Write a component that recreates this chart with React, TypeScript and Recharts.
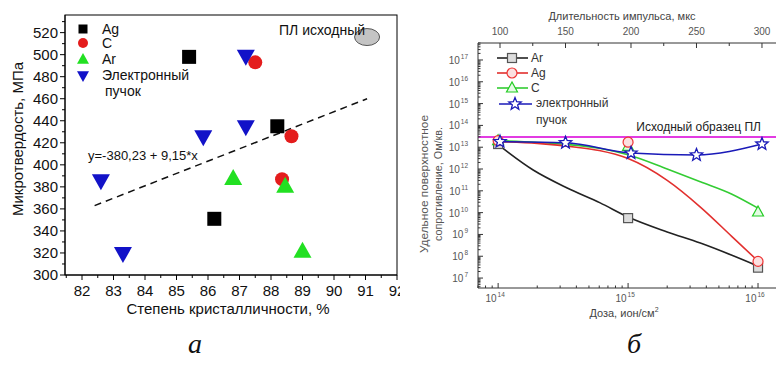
import { ScatterChart, ComposedChart, Scatter, Line, XAxis, YAxis, ReferenceLine } from 'recharts'

const font = 'Liberation Sans, Arial, Helvetica, sans-serif'

// panel a: microhardness vs crystallinity
const agPts = [{ x: 85.4, y: 498 }, { x: 88.2, y: 435 }, { x: 86.2, y: 351 }]
const cPts = [{ x: 87.5, y: 493 }, { x: 88.65, y: 426 }, { x: 88.35, y: 387 }]
const arPts = [{ x: 86.8, y: 388 }, { x: 88.45, y: 381 }, { x: 89.0, y: 322 }]
const ebPts = [{ x: 87.2, y: 498 }, { x: 85.85, y: 425 }, { x: 87.2, y: 434 }, { x: 82.6, y: 385 }, { x: 83.3, y: 319 }]
const plPt = [{ x: 91.05, y: 516 }]
const fitEnds = [{ x: 82.4, y: 363 }, { x: 91.05, y: 460 }]
const crystTicks = [81.5, 82, 82.5, 83, 83.5, 84, 84.5, 85, 85.5, 86, 86.5, 87, 87.5, 88, 88.5, 89, 89.5, 90, 90.5, 91, 91.5, 92]
const hardTicks = [300, 310, 320, 330, 340, 350, 360, 370, 380, 390, 400, 410, 420, 430, 440, 450, 460, 470, 480, 490, 500, 510, 520, 530]

// panel b: surface resistance vs dose / pulse length
const arCurve = [
  { d: 1e14, r: 1.3e13 }, { d: 1.86e14, r: 9e11 }, { d: 3.4e14, r: 1.35e11 }, { d: 6.1e14, r: 2.8e10 },
  { d: 1e15, r: 6.3e9 }, { d: 2e15, r: 1.3e9 }, { d: 3.6e15, r: 4e8 }, { d: 6.3e15, r: 1.1e8 }, { d: 1e16, r: 3.5e7 },
]
const agCurve = [
  { d: 1e14, r: 1.8e13 }, { d: 2e14, r: 1.5e13 }, { d: 4e14, r: 1e13 }, { d: 6e14, r: 7e12 }, { d: 1e15, r: 3e12 },
  { d: 2e15, r: 3e11 }, { d: 3.6e15, r: 1.8e10 }, { d: 6.3e15, r: 8e8 }, { d: 1e16, r: 6e7 },
]
const cCurve = [
  { d: 1e14, r: 2e13 }, { d: 3e14, r: 1.4e13 }, { d: 6e14, r: 9e12 }, { d: 1e15, r: 4.5e12 }, { d: 2e15, r: 1e12 },
  { d: 3.6e15, r: 2.6e11 }, { d: 6.3e15, r: 7e10 }, { d: 1e16, r: 1.6e10 },
]
const arMarks = [{ d: 1e14, r: 1.4e13 }, { d: 1e15, r: 5.6e9 }, { d: 1e16, r: 3e7 }]
const agMarks = [{ d: 1e14, r: 2e13 }, { d: 1e15, r: 1.7e13 }, { d: 1e16, r: 5.8e7 }]
const cMarks = [{ d: 1e14, r: 2e13 }, { d: 1e15, r: 1.1e13 }, { d: 1e16, r: 1.07e10 }]
const ebPulse = [{ p: 100, r: 1.8e13 }, { p: 150, r: 1.6e13 }, { p: 200, r: 5.4e12 }, { p: 250, r: 4.4e12 }, { p: 300, r: 1.4e13 }]
const plLevel = 2.9e13
const decades = [6, 7, 8, 9, 10, 11, 12, 13, 14, 15, 16, 17]
const resTicks = decades.flatMap((n) => [1, 2, 3, 4, 5, 6, 7, 8, 9].map((k) => k * 10 ** n)).filter((v) => v >= 3.5e6 && v <= 6e17)
const doseTicks = [13, 14, 15, 16].flatMap((n) => [1, 2, 3, 4, 5, 6, 7, 8, 9].map((k) => k * 10 ** n)).filter((v) => v >= 7e13 && v <= 1.37e16)
const pulseTicks = [100, 125, 150, 175, 200, 225, 250, 275, 300]

const isDecade = (v: number) => { const e = Math.log10(v); return Math.abs(e - Math.round(e)) < 1e-9 }

const sqS = (p: any, s = 7) => <rect x={p.cx - s} y={p.cy - s} width={2 * s} height={2 * s} fill="#000" />
const dotS = (p: any, s = 7) => <circle cx={p.cx} cy={p.cy} r={s} fill="#e41c1c" />
const triUpS = (p: any, s = 9) => <polygon points={`${p.cx},${p.cy - s} ${p.cx - s},${p.cy + s * 0.78} ${p.cx + s},${p.cy + s * 0.78}`} fill="#22e022" />
const triDnS = (p: any, s = 9) => <polygon points={`${p.cx - s},${p.cy - s * 0.78} ${p.cx + s},${p.cy - s * 0.78} ${p.cx},${p.cy + s}`} fill="#1212c8" />
const sq = (p: any) => sqS(p)
const dot = (p: any) => dotS(p)
const triUp = (p: any) => triUpS(p)
const triDn = (p: any) => triDnS(p)
const blob = (p: any) => <ellipse cx={p.cx} cy={p.cy} rx={12.5} ry={8.5} fill="#c4c4c4" stroke="#555" />

const oSq = (p: any) => <rect x={p.cx - 4.5} y={p.cy - 4.5} width={9} height={9} fill="#ddd" stroke="#555" strokeWidth={1.2} />
const oDot = (p: any) => <circle cx={p.cx} cy={p.cy} r={5} fill="#fbe0e0" stroke="#e33" strokeWidth={1.2} />
const oTri = (p: any) => <polygon points={`${p.cx},${p.cy - 6} ${p.cx - 5.5},${p.cy + 4} ${p.cx + 5.5},${p.cy + 4}`} fill="#e4fbe4" stroke="#2c2" strokeWidth={1.2} />
const star = (p: any) => {
  const pts = Array.from({ length: 10 }, (_, i) => {
    const a = (-90 + i * 36) * Math.PI / 180
    const rr = i % 2 ? 2.8 : 6.5
    return `${p.cx + rr * Math.cos(a)},${p.cy + rr * Math.sin(a)}`
  }).join(' ')
  return <polygon points={pts} fill="#fff" stroke="#1a1ab8" strokeWidth={1.3} />
}

const CrystTick = (p: any) => {
  const v = p.payload.value
  const major = Number.isInteger(v)
  return (
    <g>
      <line x1={p.x} x2={p.x} y1={p.y} y2={p.y + (major ? 5 : 3)} stroke="#000" />
      {major && <text x={p.x} y={p.y + 21} textAnchor="middle" fontSize={15} fill="#111" fontFamily={font}>{v}</text>}
    </g>
  )
}
const HardTick = (p: any) => {
  const v = p.payload.value
  const major = v % 20 === 0
  return (
    <g>
      <line x1={p.x} x2={p.x - (major ? 5 : 3)} y1={p.y} y2={p.y} stroke="#000" />
      {major && <text x={p.x - 7} y={p.y + 5} textAnchor="end" fontSize={15} fill="#111" fontFamily={font}>{v}</text>}
    </g>
  )
}
const ResTick = (p: any) => {
  const v = p.payload.value
  const major = isDecade(v)
  return (
    <g>
      <line x1={p.x} x2={p.x + (major ? 5 : 2.5)} y1={p.y} y2={p.y} stroke="#333" />
      {major && (
        <text x={p.x - 10} y={p.y + 4} textAnchor="end" fontSize={10} fill="#555" fontFamily={font}>
          10<tspan dx={1} dy={-5} fontSize={6.5}>{Math.round(Math.log10(v))}</tspan>
        </text>
      )}
    </g>
  )
}
const DoseTick = (p: any) => {
  const v = p.payload.value
  const major = isDecade(v)
  return (
    <g>
      <line x1={p.x} x2={p.x} y1={p.y} y2={p.y - (major ? 5 : 2.5)} stroke="#333" />
      {major && (
        <text x={p.x - 3} y={p.y + 14} textAnchor="middle" fontSize={10} fill="#555" fontFamily={font}>
          10<tspan dx={1} dy={-5} fontSize={6.5}>{Math.round(Math.log10(v))}</tspan>
        </text>
      )}
    </g>
  )
}
const PulseTick = (p: any) => {
  const v = p.payload.value
  const major = v % 50 === 0
  return (
    <g>
      <line x1={p.x} x2={p.x} y1={p.y} y2={p.y + (major ? 5 : 3)} stroke="#333" />
      {major && <text x={p.x} y={p.y - 8} textAnchor="middle" fontSize={10} fill="#555" fontFamily={font}>{v}</text>}
    </g>
  )
}

function PanelA() {
  return (
    <ScatterChart width={400} height={320} margin={{ top: 15, right: 3, bottom: 15, left: 15 }}>
      <XAxis type="number" dataKey="x" domain={[81.46, 92]} ticks={crystTicks} interval={0} allowDataOverflow height={30}
        tickSize={0} tickMargin={0} tickLine={false} tick={(p: any) => <CrystTick {...p} />} axisLine={{ stroke: '#000' }} />
      <YAxis type="number" dataKey="y" domain={[300, 536]} ticks={hardTicks} interval={0} allowDataOverflow width={50}
        tickSize={0} tickMargin={0} tickLine={false} tick={(p: any) => <HardTick {...p} />} axisLine={{ stroke: '#000' }} />
      <ReferenceLine segment={fitEnds} stroke="#111" strokeWidth={1.5} strokeDasharray="7 5" />
      <Scatter data={agPts} shape={sq} isAnimationActive={false} />
      <Scatter data={cPts} shape={dot} isAnimationActive={false} />
      <Scatter data={arPts} shape={triUp} isAnimationActive={false} />
      <Scatter data={ebPts} shape={triDn} isAnimationActive={false} />
      <Scatter data={plPt} shape={blob} isAnimationActive={false} />
    </ScatterChart>
  )
}

function PanelB() {
  return (
    <ComposedChart width={373} height={320} margin={{ top: 0, right: 0, bottom: 0, left: 0 }}>
      <XAxis xAxisId="dose" type="number" dataKey="d" scale="log" domain={[7.0e13, 1.375e16]} ticks={doseTicks} interval={0}
        allowDataOverflow height={32} tickSize={0} tickMargin={0} tickLine={false} tick={(p: any) => <DoseTick {...p} />}
        axisLine={{ stroke: '#333' }} />
      <XAxis xAxisId="pulse" orientation="top" type="number" dataKey="p" domain={[83.2, 310.7]} ticks={pulseTicks} interval={0}
        allowDataOverflow height={43} tickSize={0} tickMargin={0} tickLine={false} tick={(p: any) => <PulseTick {...p} />}
        axisLine={{ stroke: '#333' }} />
      <YAxis type="number" dataKey="r" scale="log" domain={[3.5e6, 6e17]} ticks={resTicks} interval={0} allowDataOverflow width={75}
        tickSize={0} tickMargin={0} tickLine={false} tick={(p: any) => <ResTick {...p} />} axisLine={{ stroke: '#333' }} />
      <ReferenceLine xAxisId="dose" y={plLevel} stroke="#e23be2" strokeWidth={2} />
      <Line xAxisId="dose" data={cCurve} dataKey="r" type="monotone" stroke="#33cc33" strokeWidth={1.6} dot={false} isAnimationActive={false} />
      <Line xAxisId="dose" data={agCurve} dataKey="r" type="monotone" stroke="#e2302e" strokeWidth={1.6} dot={false} isAnimationActive={false} />
      <Line xAxisId="dose" data={arCurve} dataKey="r" type="monotone" stroke="#222" strokeWidth={1.6} dot={false} isAnimationActive={false} />
      <Line xAxisId="pulse" data={ebPulse} dataKey="r" type="monotone" stroke="#1a1ab8" strokeWidth={1.6} dot={false} isAnimationActive={false} />
      <Scatter xAxisId="dose" data={arMarks} dataKey="r" shape={oSq} isAnimationActive={false} />
      <Scatter xAxisId="dose" data={cMarks} dataKey="r" shape={oTri} isAnimationActive={false} />
      <Scatter xAxisId="dose" data={agMarks} dataKey="r" shape={oDot} isAnimationActive={false} />
      <Scatter xAxisId="pulse" data={ebPulse} dataKey="r" shape={star} isAnimationActive={false} />
    </ComposedChart>
  )
}

function Overlay() {
  const lg = { fontFamily: font, fill: '#111' }
  const rl = { fontFamily: font, fill: '#333', fontSize: 12 }
  return (
    <svg width={776} height={367} style={{ position: 'absolute', left: 0, top: 0, pointerEvents: 'none' }}>
      {/* frame of panel a */}
      <rect x={65} y={15} width={332} height={260} fill="none" stroke="#000" />
      {/* legend a */}
      {sqS({ cx: 83, cy: 29 }, 4.5)}
      {dotS({ cx: 83, cy: 43 }, 5)}
      {triUpS({ cx: 83, cy: 59 }, 6)}
      {triDnS({ cx: 83, cy: 76 }, 6)}
      <text x={102} y={34} fontSize={14} {...lg}>Ag</text>
      <text x={102} y={48} fontSize={14} {...lg}>C</text>
      <text x={102} y={64} fontSize={14} {...lg}>Ar</text>
      <text x={102} y={80} fontSize={14} {...lg}>Электронный</text>
      <text x={105} y={96} fontSize={14} {...lg}>пучок</text>
      <text x={279} y={35} fontSize={14} {...lg}>ПЛ исходный</text>
      <text x={88} y={160} fontSize={13} {...lg}>y=-380,23 + 9,15*x</text>
      <text x={228} y={314} fontSize={15} textAnchor="middle" {...lg}>Степень кристалличности, %</text>
      <text x={0} y={0} fontSize={15} textAnchor="middle" transform="translate(23,139) rotate(-90)" {...lg}>Микротвердость, МПа</text>

      {/* panel b texts */}
      <text x={622} y={20} fontSize={11} textAnchor="middle" fontFamily={font} fill="#444">Длительность импульса, мкс</text>
      <text x={624} y={317} fontSize={11} textAnchor="middle" fontFamily={font} fill="#444">Доза, ион/см<tspan dy={-5} fontSize={7}>2</tspan></text>
      <text x={0} y={0} fontSize={11} textAnchor="middle" fontFamily={font} fill="#555" textLength={138} lengthAdjust="spacingAndGlyphs"
        transform="translate(428,184) rotate(-90)">Удельное поверхностное</text>
      <text x={0} y={0} fontSize={11} textAnchor="middle" fontFamily={font} fill="#555" textLength={114} lengthAdjust="spacingAndGlyphs"
        transform="translate(442,184) rotate(-90)">сопротивление, Ом/кв.</text>
      <text x={761} y={131} fontSize={12} textAnchor="end" fontFamily={font} fill="#222">Исходный образец ПЛ</text>

      {/* legend b */}
      <line x1={497} x2={528} y1={58} y2={58} stroke="#222" strokeWidth={1.6} />
      {oSq({ cx: 512, cy: 58 })}
      <text x={531} y={62} {...rl}>Ar</text>
      <line x1={497} x2={528} y1={73} y2={73} stroke="#e2302e" strokeWidth={1.6} />
      {oDot({ cx: 512, cy: 73 })}
      <text x={531} y={77} {...rl}>Ag</text>
      <line x1={497} x2={528} y1={88} y2={88} stroke="#33cc33" strokeWidth={1.6} />
      {oTri({ cx: 512, cy: 88 })}
      <text x={531} y={92} {...rl}>C</text>
      <line x1={499} x2={532} y1={104} y2={104} stroke="#1a1ab8" strokeWidth={1.6} />
      {star({ cx: 515, cy: 104 })}
      <text x={536} y={107} {...rl}>электронный</text>
      <text x={536} y={124} {...rl}>пучок</text>

      <text x={195} y={353} fontSize={28} fontStyle="italic" textAnchor="middle" fontFamily="Liberation Serif, Times New Roman, serif" fill="#111">а</text>
      <text x={634} y={353} fontSize={28} fontStyle="italic" textAnchor="middle" fontFamily="Liberation Serif, Times New Roman, serif" fill="#111">б</text>
    </svg>
  )
}

export default function App() {
  return (
    <div style={{ position: 'absolute', left: 0, top: 0, width: 776, height: 367, background: '#fff', overflow: 'hidden' }}>
      <div style={{ position: 'absolute', left: 0, top: 0 }}>
        <PanelA />
      </div>
      <div style={{ position: 'absolute', left: 403, top: 0, background: '#fff' }}>
        <PanelB />
      </div>
      <Overlay />
    </div>
  )
}
